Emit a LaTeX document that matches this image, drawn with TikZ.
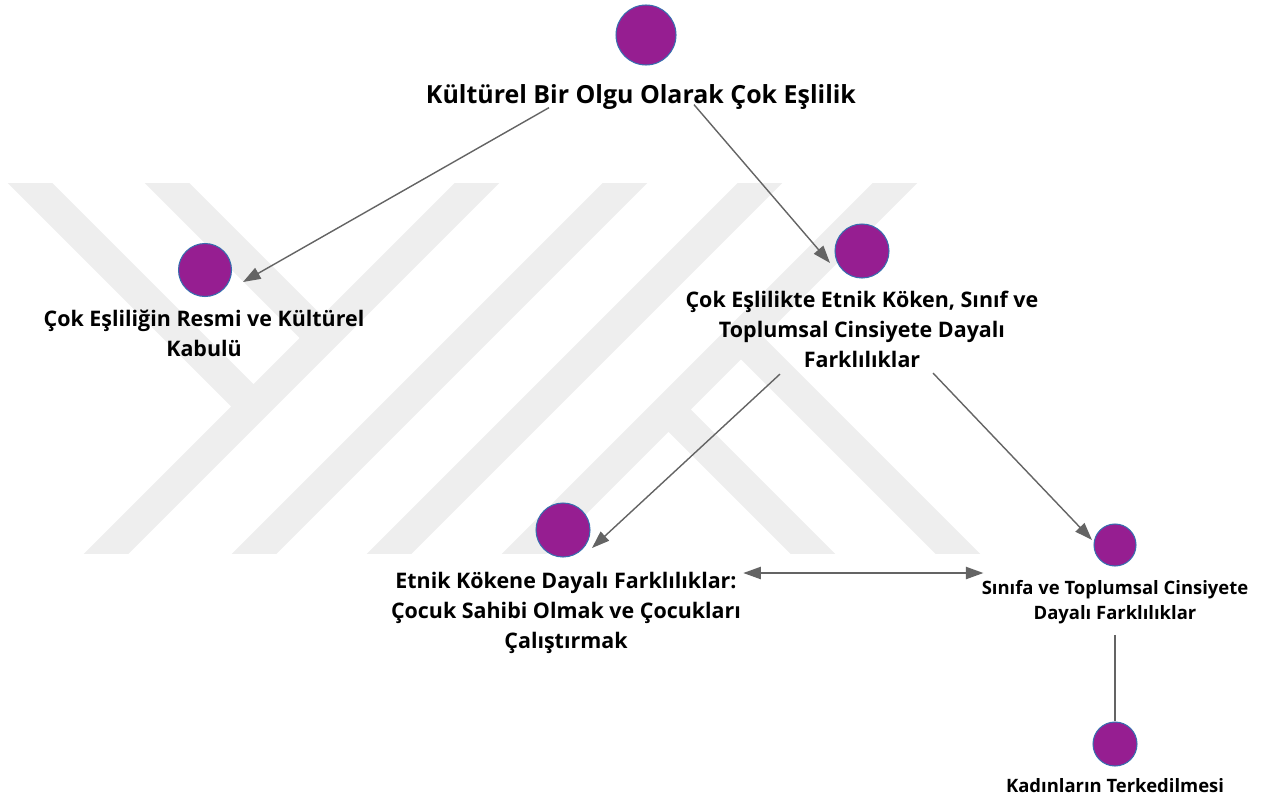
\documentclass[tikz,border=0pt]{standalone}
\usepackage{fontspec}
\setmainfont{Open Sans}
\usepackage{tikz}
\usetikzlibrary{arrows.meta,calc}

\definecolor{nodepurple}{RGB}{150,30,145}
\definecolor{nodeblue}{RGB}{55,110,175}
\definecolor{linkgray}{RGB}{100,100,100}
\definecolor{markgray}{RGB}{238,238,238}

\begin{document}
\begin{tikzpicture}[x=0.02cm,y=-0.02cm,
  concept/.style={circle,fill=nodepurple,draw=nodeblue,line width=0.6pt,inner sep=0pt,minimum size=#1},
  caption/.style={anchor=north,align=center,inner sep=0pt,font=\bfseries\fontsize{12.2}{17}\selectfont},
  smallcaption/.style={caption,font=\bfseries\fontsize{10.5}{14.2}\selectfont},
  link/.style={color=linkgray,line width=0.8pt,-{Triangle[length=10pt,width=7pt]}},
  band/.style={draw=markgray,line width=18pt}]
\useasboundingbox (0,0) rectangle (1270,798);

% watermark stripes
\begin{scope}
  \clip (0,183) rectangle (1270,553);
  \draw[band] (527,133) -- (57,603);
  \draw[band] (-20,133) -- (253.5,406.5);
  \draw[band] (117,133) -- (322,338);
  \draw[band] (675,133) -- (205,603);
  \draw[band] (810,133) -- (340,603);
  \draw[band] (945,133) -- (475,603);
  \draw[band] (741,337) -- (1007,603);
  \draw[band] (668.5,409.5) -- (862,603);
\end{scope}

  \node[concept=1.2cm]   (c1) at (646,35)  {};
  \node[concept=1.06cm]  (c2) at (205,270) {};
  \node[concept=1.08cm]  (c3) at (862,251) {};
  \node[concept=1.08cm]  (c4) at (563,530) {};
  \node[concept=0.84cm]  (c5) at (1115,545) {};
  \node[concept=0.88cm]  (c6) at (1115,744) {};

  \node[caption,font=\bfseries\fontsize{14.2}{18}\selectfont] (t1) at (641,84) {Kültürel Bir Olgu Olarak Çok Eşlilik};
  \node[caption]      (t2) at (204,310)  {Çok Eşliliğin Resmi ve Kültürel\\Kabulü};
  \node[caption]      (t3) at (862,291)  {Çok Eşlilikte Etnik Köken, Sınıf ve\\Toplumsal Cinsiyete Dayalı\\Farklılıklar};
  \node[caption]      (t4) at (566,572)  {Etnik Kökene Dayalı Farklılıklar:\\Çocuk Sahibi Olmak ve Çocukları\\Çalıştırmak};
  \node[smallcaption] (t5) at (1115,580) {Sınıfa ve Toplumsal Cinsiyete\\Dayalı Farklılıklar};
  \node[smallcaption] (t6) at (1115,778) {Kadınların Terkedilmesi};

  \coordinate (ethnic) at ($(t4.north east)+(2,1)$);
  \coordinate (class)  at ($(t5.north west)+(2,0)$);

  \draw[link] ($(t1.south)+(-92,-2)$) -- ($(c2)+(38,12)$);
  \draw[link] ($(t1.south)+(53,-5)$)  -- ($(c3)+(-32,12)$);
  \draw[link] ($(t3.south)+(-82,6)$)  -- ($(c4)+(29,18)$);
  \draw[link] ($(t3.south)+(71,5)$)   -- ($(c5)+(-23,-5)$);
  \draw[link,{Triangle[length=10pt,width=7pt]}-{Triangle[length=10pt,width=7pt]}]
    (ethnic) -- (class |- ethnic);
  \draw[color=linkgray,line width=0.8pt,shorten <=6pt] (t5.south) -- (c6.north);
\end{tikzpicture}
\end{document}
